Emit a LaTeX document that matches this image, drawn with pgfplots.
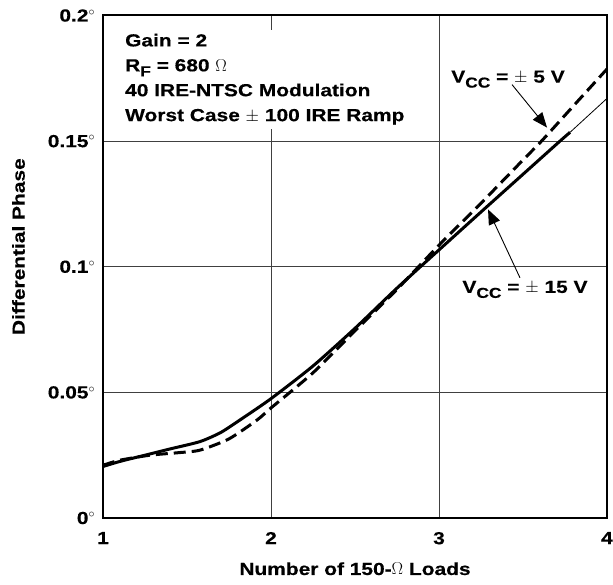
\documentclass[border=0pt]{standalone}
\usepackage{pgfplots}
\pgfplotsset{compat=1.18}
\usepackage{fontspec}
\setmainfont{Liberation Sans}[FakeStretch=1.2, BoldFeatures={FakeBold=0.4}]
\usetikzlibrary{arrows.meta}
\newcommand\sub[1]{\raisebox{-5bp}{\fontsize{14.5}{16}\selectfont #1}}
\newcommand\fnt{\fontsize{17.5}{25}\selectfont\bfseries}
\begin{document}
\fnt
\begin{tikzpicture}
\useasboundingbox (0,0) rectangle (613bp,585bp);
\begin{axis}[
 at={(103bp,67bp)}, anchor=south west,
 width=504bp, height=502.5bp, scale only axis,
 xmin=1, xmax=4, ymin=0, ymax=0.2,
 xtick={1,2,3,4}, xticklabels={1,2,3,4},
 ytick={0,0.05,0.1,0.15,0.2},
 yticklabels={0$^\circ$,0.05$^\circ$,0.1$^\circ$,0.15$^\circ$,0.2$^\circ$},
 grid=major, major grid style={line width=0.8bp, black!75},
 major tick length=0pt,
 axis line style={line width=2bp},
 tick label style={font=\fnt},
 xticklabel style={yshift=-8bp},
 yticklabel style={xshift=-2bp},
 xlabel={Number of 150-$\Omega$ Loads},
 xlabel style={at={(rel axis cs:0.5,-0.1134)}, anchor=base, font=\fnt},
 ylabel={Differential Phase},
 ylabel style={at={(rel axis cs:-0.1677,0.54)}, anchor=center, rotate=0, font=\fnt},
 clip=false,
]
\node[anchor=north west, fill=white, inner sep=4bp, align=left, font=\fnt]
  at (axis cs:1.107,0.1944)
  {Gain = 2\\R\sub{F} = 680 $\Omega$\\40 IRE-NTSC Modulation\\Worst Case $\pm$ 100 IRE Ramp};
\node[anchor=base, fill=white, inner xsep=6bp, inner ysep=3bp, font=\fnt]
  at (axis cs:3.411,0.1733) {V\sub{CC} = $\pm$ 5 V};
\node[anchor=base, fill=white, inner xsep=4bp, inner ysep=3bp, font=\fnt]
  at (axis cs:3.512,0.0896) {V\sub{CC} = $\pm$ 15 V};

% Vcc = +-15 V (solid)
\addplot[black, line width=3bp, smooth, tension=0.4] coordinates {
 (1.0,0.0205) (1.1,0.0225) (1.25,0.025) (1.4,0.0275) (1.577,0.0304)
 (1.7,0.034) (1.815,0.039) (2.0,0.0475) (2.25,0.0605)
 (2.5,0.0755) (2.75,0.0915) (3.0,0.1067) (3.25,0.1218)
 (3.5,0.1368) (3.72,0.150) (3.78,0.1535)
};
\addplot[black, line width=0.8bp] coordinates {(3.78,0.1535) (4.0,0.167)};
% Vcc = +-5 V (dashed)
\addplot[black, line width=3bp, dash pattern=on 12bp off 6bp, smooth, tension=0.4] coordinates {
 (1.0,0.021) (1.1,0.023) (1.28,0.025) (1.45,0.026) (1.577,0.027)
 (1.75,0.0315) (1.917,0.039) (2.0,0.0438) (2.25,0.0578)
 (2.5,0.0745) (2.75,0.091) (3.0,0.1086) (3.25,0.1253)
 (3.5,0.1425) (3.61,0.150) (3.8,0.164) (4.0,0.1787)
};
\draw[-{Triangle[length=15bp,width=12bp]}, line width=0.9bp]
  (axis cs:3.4345,0.1725) -- (axis cs:3.643,0.1554);
\draw[-{Triangle[length=15bp,width=12bp]}, line width=0.9bp]
  (axis cs:3.482,0.0956) -- (axis cs:3.292,0.1228);
\end{axis}
\end{tikzpicture}
\end{document}
